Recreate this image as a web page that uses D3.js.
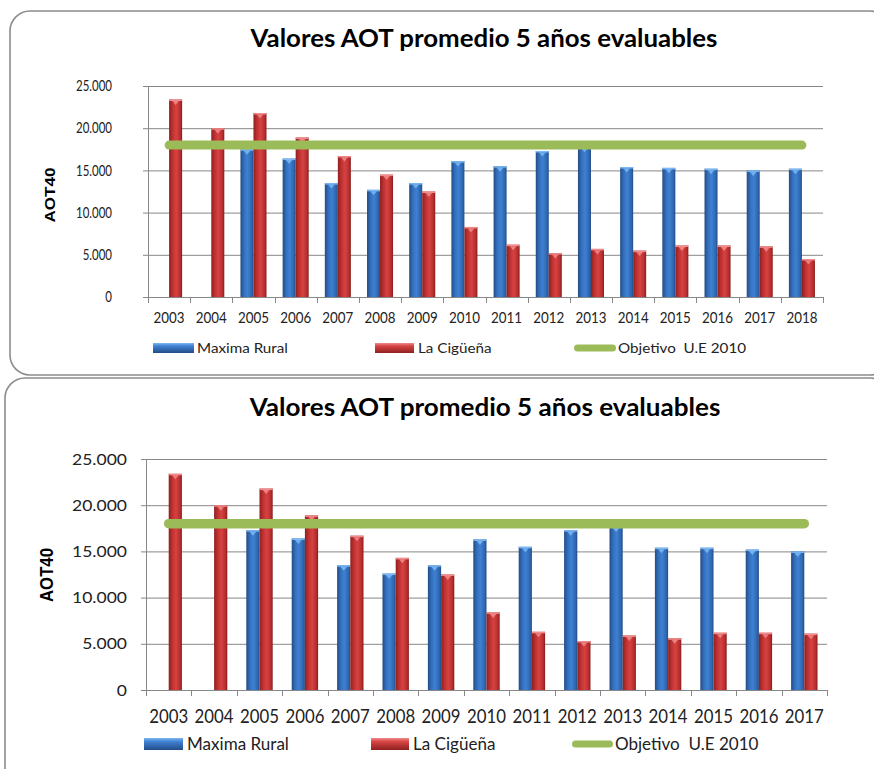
<!DOCTYPE html>
<html>
<head>
<meta charset="utf-8">
<title>Valores AOT promedio 5 años evaluables</title>
<script src="https://d3js.org/d3.v7.min.js"></script>
<style>
  body { margin: 0; background: #fff; }
  svg text { font-family: Lato, "Open Sans", sans-serif; fill: #222; }
</style>
</head>
<body>
<div id="vis"></div>
<script>
// ---- data, chart 1 (2003-2018)
var years1 = ["2003","2004","2005","2006","2007","2008","2009","2010","2011","2012","2013","2014","2015","2016","2017","2018"];
var maximaRural1 = [null, null, 17500, 16400, 13500, 12700, 13500, 16100, 15500, 17300, 17800, 15400, 15300, 15200, 15000, 15200];
var laCiguena1 = [23400, 20000, 21800, 18900, 16700, 14500, 12500, 8300, 6200, 5200, 5700, 5500, 6100, 6100, 6000, 4500];
var objetivoUE1 = [18000, 18000, 18000, 18000, 18000, 18000, 18000, 18000, 18000, 18000, 18000, 18000, 18000, 18000, 18000, 18000];

// ---- data, chart 2 (2003-2017)
var years2 = ["2003","2004","2005","2006","2007","2008","2009","2010","2011","2012","2013","2014","2015","2016","2017"];
var maximaRural2 = [null, null, 17300, 16400, 13500, 12600, 13500, 16300, 15500, 17300, 17700, 15400, 15400, 15200, 15000];
var laCiguena2 = [23400, 20000, 21800, 18900, 16700, 14300, 12500, 8400, 6300, 5300, 5900, 5600, 6200, 6200, 6100];
var objetivoUE2 = [18000, 18000, 18000, 18000, 18000, 18000, 18000, 18000, 18000, 18000, 18000, 18000, 18000, 18000, 18000];

var yTicks = [0, 5000, 10000, 15000, 20000, 25000];
var seriesNames = ["Maxima Rural", "La Cigüeña", "Objetivo  U.E 2010"];
var chartTitle = "Valores AOT promedio 5 años evaluables";
var yTitle = "AOT40";

var fmt = d3.formatLocale({decimal: ",", thousands: ".", grouping: [3], currency: ["", ""]}).format(",");

var svg = d3.select("#vis").append("svg")
  .attr("width", 874)
  .attr("height", 769);

var defs = svg.append("defs");

// cylinder-ish gradients like the excel bars
function hGrad(id, stops) {
  var g = defs.append("linearGradient").attr("id", id)
    .attr("x1", "0%").attr("x2", "100%").attr("y1", "0%").attr("y2", "0%");
  stops.forEach(function (s) { g.append("stop").attr("offset", s[0]).attr("stop-color", s[1]); });
}
function vGrad(id, stops) {
  var g = defs.append("linearGradient").attr("id", id)
    .attr("x1", "0%").attr("x2", "0%").attr("y1", "0%").attr("y2", "100%");
  stops.forEach(function (s) { g.append("stop").attr("offset", s[0]).attr("stop-color", s[1]); });
}
hGrad("blueBar", [["0%", "#234c86"], ["30%", "#3572c0"], ["55%", "#3e80d2"], ["85%", "#2f67b0"], ["100%", "#234d88"]]);
hGrad("redBar", [["0%", "#8e2020"], ["30%", "#c33333"], ["55%", "#d64242"], ["85%", "#b82e2e"], ["100%", "#861d1d"]]);
vGrad("blueLeg", [["0%", "#7fb6ee"], ["30%", "#3f82d4"], ["100%", "#234c86"]]);
vGrad("redLeg", [["0%", "#f08a8a"], ["30%", "#d84444"], ["100%", "#8e2020"]]);

var colors = {
  blue: "url(#blueBar)", red: "url(#redBar)",
  blueCap: "#7db9f2", redCap: "#f08c8c",
  green: "#9bbb59", grid: "#878787", border: "#8c8c8c"
};

function putText(g, x, y, str, size, anchor, weight) {
  return g.append("text")
    .attr("data-x", x).attr("data-y", y)
    .attr("transform", "translate(" + x + "," + y + ")")
    .attr("text-anchor", anchor)
    .attr("font-size", size)
    .attr("font-weight", weight || "normal")
    .style("white-space", "pre")
    .text(str);
}
// stretch/squeeze text horizontally so widths follow the picture
function squeeze(sel, sx, rot) {
  sel.each(function () {
    var t = d3.select(this);
    t.attr("transform", "translate(" + t.attr("data-x") + "," + t.attr("data-y") + ")" +
      (rot ? " rotate(" + rot + ")" : "") + " scale(" + sx + ",1)");
  });
}
function widthOf(sel) { return sel.node().getComputedTextLength(); }

function drawChart(cfg) {
  var g = svg.append("g");

  // panel
  g.append("rect")
    .attr("x", cfg.panel.x).attr("y", cfg.panel.y)
    .attr("width", cfg.panel.w).attr("height", cfg.panel.h)
    .attr("rx", 20).attr("ry", 20)
    .attr("fill", "#fff").attr("stroke", colors.border).attr("stroke-width", 1.6);

  // title
  var title = putText(g, cfg.titleX, cfg.titleY, chartTitle, 24, "middle", "bold").style("fill", "#000");
  squeeze(title, cfg.titleW / widthOf(title));

  var p = cfg.plot;
  var x = d3.scaleBand().domain(cfg.years).range([p.left, p.right]).padding(0);
  var xs = d3.scaleBand().domain(["max", "cig"]).range([0, x.bandwidth()]).paddingInner(0).paddingOuter(cfg.barPad);
  var y = d3.scaleLinear().domain([0, 25000]).range([p.bottom, p.top]);

  // gridlines + left ticks
  g.append("g").selectAll("line").data(yTicks).join("line")
    .attr("x1", p.left - 5).attr("x2", p.right)
    .attr("y1", function (d) { return y(d) + 0.5; }).attr("y2", function (d) { return y(d) + 0.5; })
    .attr("stroke", colors.grid).attr("stroke-width", 1);

  // y axis line
  g.append("line").attr("x1", p.left + 0.5).attr("x2", p.left + 0.5)
    .attr("y1", p.top).attr("y2", p.bottom + 6)
    .attr("stroke", colors.grid);

  // x category ticks
  var bounds = cfg.years.map(function (d) { return x(d); }).concat([p.right]);
  g.append("g").selectAll("line").data(bounds).join("line")
    .attr("x1", function (d) { return Math.round(d) + 0.5; }).attr("x2", function (d) { return Math.round(d) + 0.5; })
    .attr("y1", p.bottom).attr("y2", p.bottom + 6)
    .attr("stroke", colors.grid);

  // bars
  var rows = cfg.years.map(function (yr, i) {
    return [{year: yr, key: "max", v: cfg.maxima[i]}, {year: yr, key: "cig", v: cfg.ciguena[i]}];
  });
  var flat = [].concat.apply([], rows).filter(function (d) { return d.v != null; });
  var bars = g.append("g").selectAll("g").data(flat).join("g");
  bars.append("rect")
    .attr("x", function (d) { return x(d.year) + xs(d.key); })
    .attr("y", function (d) { return y(d.v); })
    .attr("width", xs.bandwidth())
    .attr("height", function (d) { return y(0) - y(d.v); })
    .attr("fill", function (d) { return d.key === "max" ? colors.blue : colors.red; });
  // bevel on top of bars
  bars.append("rect")
    .attr("x", function (d) { return x(d.year) + xs(d.key); })
    .attr("y", function (d) { return y(d.v); })
    .attr("width", xs.bandwidth())
    .attr("height", 1.5)
    .attr("fill", function (d) { return d.key === "max" ? colors.blueCap : colors.redCap; });
  bars.append("path")
    .attr("d", function (d) {
      var x0 = x(d.year) + xs(d.key), w = xs.bandwidth(), yt = y(d.v) + 1.5;
      return "M" + (x0 + w * 0.25) + "," + yt + "L" + (x0 + w * 0.75) + "," + yt + "L" + (x0 + w / 2) + "," + (yt + 4) + "Z";
    })
    .attr("fill", function (d) { return d.key === "max" ? colors.blueCap : colors.redCap; })
    .attr("opacity", 0.85);

  // objetivo line
  var line = d3.line()
    .x(function (d, i) { return x(cfg.years[i]) + x.bandwidth() / 2; })
    .y(function (d) { return y(d); });
  g.append("path").datum(cfg.objetivo)
    .attr("d", line)
    .attr("fill", "none").attr("stroke", colors.green)
    .attr("stroke-width", cfg.lineW).attr("stroke-linecap", "round");

  // y labels
  var yl = g.append("g");
  yTicks.forEach(function (t) {
    putText(yl, cfg.yLabelRight, y(t) + cfg.yLabelSize * 0.36, fmt(t), cfg.yLabelSize, "end");
  });
  var ref = yl.selectAll("text").filter(function () { return this.textContent === "25.000"; });
  squeeze(yl.selectAll("text"), cfg.yLabelW / widthOf(ref));

  // x labels
  var xl = g.append("g");
  cfg.years.forEach(function (yr) {
    putText(xl, x(yr) + x.bandwidth() / 2, cfg.xLabelY, yr, cfg.xLabelSize, "middle");
  });
  squeeze(xl.selectAll("text"), cfg.xLabelW / widthOf(xl.select("text")));

  // axis title
  var at = putText(g, cfg.axisTitle.x, cfg.axisTitle.y, yTitle, cfg.axisTitle.size, "middle", "bold")
    .style("font-family", "'Liberation Sans', Arial, sans-serif").style("fill", "#000");
  squeeze(at, cfg.axisTitle.w / widthOf(at), -90);

  // legend
  var L = cfg.legend;
  var lg = g.append("g");
  lg.append("rect").attr("x", L.blueX[0]).attr("y", L.y).attr("width", L.blueX[1] - L.blueX[0]).attr("height", L.h)
    .attr("fill", "url(#blueLeg)");
  lg.append("rect").attr("x", L.redX[0]).attr("y", L.y).attr("width", L.redX[1] - L.redX[0]).attr("height", L.h)
    .attr("fill", "url(#redLeg)");
  lg.append("line").attr("x1", L.greenX[0] + 3.5).attr("x2", L.greenX[1] - 3.5)
    .attr("y1", L.y + L.h / 2).attr("y2", L.y + L.h / 2)
    .attr("stroke", colors.green).attr("stroke-width", 7).attr("stroke-linecap", "round");
  var t1 = putText(lg, L.textX[0], L.base, seriesNames[0], L.size, "start");
  putText(lg, L.textX[1], L.base, seriesNames[1], L.size, "start");
  putText(lg, L.textX[2], L.base, seriesNames[2], L.size, "start");
  squeeze(lg.selectAll("text"), L.w0 / widthOf(t1));
}

drawChart({
  years: years1, maxima: maximaRural1, ciguena: laCiguena1, objetivo: objetivoUE1,
  panel: {x: 10, y: 11, w: 880, h: 364},
  titleX: 484, titleY: 47, titleW: 467,
  plot: {left: 148, right: 823, top: 86, bottom: 297},
  barPad: 0.62, lineW: 9,
  yLabelRight: 112, yLabelSize: 14.5, yLabelW: 36,
  xLabelY: 322.5, xLabelSize: 15, xLabelW: 31,
  axisTitle: {x: 55, y: 195, size: 15, w: 55},
  legend: {y: 343, h: 10, base: 353, size: 14, w0: 91,
    blueX: [153, 194], redX: [375, 414], greenX: [574, 616], textX: [197, 418, 618]}
});

drawChart({
  years: years2, maxima: maximaRural2, ciguena: laCiguena2, objetivo: objetivoUE2,
  panel: {x: 5, y: 378, w: 885, h: 420},
  titleX: 485, titleY: 416, titleW: 471,
  plot: {left: 146, right: 827, top: 459, bottom: 690},
  barPad: 0.72, lineW: 9.5,
  yLabelRight: 127, yLabelSize: 15.5, yLabelW: 55,
  xLabelY: 722.5, xLabelSize: 19, xLabelW: 39,
  axisTitle: {x: 52.5, y: 575, size: 19, w: 54},
  legend: {y: 738, h: 12, base: 750, size: 17, w0: 102,
    blueX: [144, 183], redX: [371, 409], greenX: [572, 613], textX: [187, 413, 615]}
});
</script>
</body>
</html>
